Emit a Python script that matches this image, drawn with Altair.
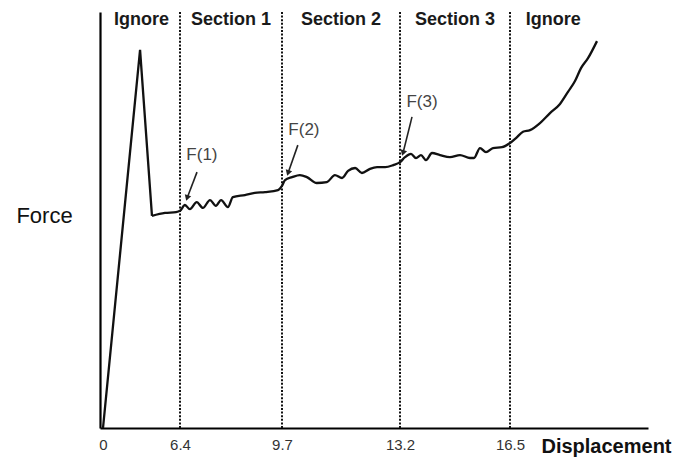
import altair as alt
import pandas as pd

# ---- data ----
disp = [0, 3.08, 4.07, 5.15, 6.07, 6.4, 6.56, 6.72, 6.94, 7.14,
        7.37, 7.56, 7.73, 7.95, 8.11, 8.5, 8.82, 9.15, 9.57, 9.7,
        9.79, 10.0, 10.23, 10.44, 10.73, 11.03, 11.27, 11.48, 11.66, 11.87,
        12.07, 12.31, 12.52, 12.76, 13.0, 13.2, 13.35, 13.53, 13.68, 13.83,
        13.98, 14.16, 14.4, 14.7, 15.0, 15.3, 15.42, 15.6, 15.78, 15.99,
        16.26, 16.5, 16.68, 16.89, 17.1, 17.4, 17.7, 18.0, 18.24, 18.45,
        18.63, 18.84, 19.11]
force = [0, 90.9, 51.0, 51.7, 51.9, 52.2, 53.6, 52.6, 54.3, 52.9,
         54.8, 53.4, 54.8, 53.1, 55.5, 56.0, 56.5, 56.7, 57.2, 58.2,
         59.6, 60.3, 60.8, 60.3, 58.9, 59.1, 60.8, 60.1, 61.8, 62.5,
         61.3, 62.3, 62.7, 62.7, 63.2, 63.9, 65.1, 65.9, 64.9, 65.6,
         64.4, 66.1, 65.6, 65.1, 65.6, 64.9, 64.9, 67.3, 66.3, 67.3,
         67.5, 68.5, 69.7, 71.2, 71.6, 73.3, 75.7, 77.9, 80.8, 83.4,
         86.5, 88.9, 93.0]
spike_end = 4.07  # where the initial load spike drops back to the plateau

boundaries = [6.4, 9.7, 13.2, 16.5]
tick_values = [0, 6.4, 9.7, 13.2, 16.5]
section_names = ["Ignore", "Section 1", "Section 2", "Section 3", "Ignore"]
section_edges = [0, 6.4, 9.7, 13.2, 16.5, 19.1]

ann_labels = ["F(1)", "F(2)", "F(3)"]
ann_tip_x = [6.63, 9.88, 13.29]
ann_tip_y = [55.3, 61.3, 66.1]
ann_tail_x = [6.95, 10.17, 13.56]
ann_tail_y = [61.5, 68.0, 74.8]
ann_text_x = [7.11, 10.35, 13.86]
ann_text_y = [65.6, 71.6, 78.4]

# ---- tables ----
curve_df = pd.DataFrame({"disp": disp, "force": force})
bound_df = pd.DataFrame({"b": boundaries})
sec_df = pd.DataFrame({
    "name": section_names,
    "mid": [(section_edges[i] + section_edges[i + 1]) / 2 for i in range(len(section_names))],
})
ann_df = pd.DataFrame({
    "label": ann_labels, "tx": ann_tip_x, "ty": ann_tip_y,
    "sx": ann_tail_x, "sy": ann_tail_y, "lx": ann_text_x, "ly": ann_text_y,
})

FONT = "Liberation Sans"

x_scale = alt.Scale(domain=[-0.25, 6.4, 9.7, 13.2, 16.5, 20.64],
                    range=[0, 80, 182, 300, 410, 548], nice=False, zero=False)
y_scale = alt.Scale(domain=[0, 100], nice=False, zero=False)

x_axis = alt.Axis(values=tick_values, format=".1~f", title="Displacement",
                  grid=False, ticks=False, tickSize=0, labelPadding=9,
                  labelFontSize=15, labelColor="#333333", labelFont=FONT,
                  titleFont=FONT, titleFontSize=20, titleFontWeight="bold",
                  titleColor="#111111", titleX=506, titleY=18,
                  titleAlign="center", titleBaseline="middle",
                  domainColor="#000000", domainWidth=2.2)
y_axis = alt.Axis(title="Force", grid=False, ticks=False, labels=False,
                  titleAngle=0, titleX=-56, titleY=203, titleAlign="center",
                  titleBaseline="middle", titleFont=FONT, titleFontSize=22,
                  titleFontWeight="normal", titleColor="#111111",
                  domainColor="#000000", domainWidth=2.2)

base = alt.Chart(curve_df)

spike = base.transform_filter(alt.datum.disp <= spike_end).mark_line(
    color="#111111", strokeWidth=2.3, interpolate="linear").encode(
    x=alt.X("disp:Q", scale=x_scale, axis=x_axis),
    y=alt.Y("force:Q", scale=y_scale, axis=y_axis),
)

plateau = base.transform_filter(alt.datum.disp >= spike_end).mark_line(
    color="#111111", strokeWidth=2.3, interpolate="monotone").encode(
    x=alt.X("disp:Q", scale=x_scale, axis=x_axis),
    y=alt.Y("force:Q", scale=y_scale, axis=y_axis),
)

rules = alt.Chart(bound_df).mark_rule(color="#111111", strokeWidth=2,
                                      strokeDash=[2, 1.6]).encode(
    x=alt.X("b:Q", scale=x_scale, axis=x_axis),
)

sections = alt.Chart(sec_df).mark_text(font=FONT, fontSize=18, fontWeight="bold",
                                       color="#1a1a1a", baseline="middle",
                                       align="center").encode(
    x=alt.X("mid:Q", scale=x_scale, axis=x_axis),
    y=alt.value(8),
    text="name:N",
)

arrows = alt.Chart(ann_df).mark_rule(color="#222222", strokeWidth=1.6).encode(
    x=alt.X("sx:Q", scale=x_scale, axis=x_axis),
    y=alt.Y("sy:Q", scale=y_scale, axis=y_axis),
    x2="tx:Q",
    y2="ty:Q",
)

heads = alt.Chart(ann_df).mark_point(shape="triangle-down", filled=True,
                                     color="#222222", size=45, angle=18,
                                     opacity=1).encode(
    x=alt.X("tx:Q", scale=x_scale, axis=x_axis),
    y=alt.Y("ty:Q", scale=y_scale, axis=y_axis),
)

ann_text = alt.Chart(ann_df).mark_text(font=FONT, fontSize=17, color="#444444",
                                       baseline="middle", align="center").encode(
    x=alt.X("lx:Q", scale=x_scale, axis=x_axis),
    y=alt.Y("ly:Q", scale=y_scale, axis=y_axis),
    text="label:N",
)

chart = alt.layer(rules, spike, plateau, arrows, heads, ann_text, sections).properties(
    width=548, height=416,
    autosize=alt.AutoSizeParams(type="none"),
    padding={"left": 100, "top": 12, "right": 28, "bottom": 31},
    background="white",
).configure_view(stroke=None)

chart.save("out.html", embed_options={"renderer": "svg", "actions": False})
